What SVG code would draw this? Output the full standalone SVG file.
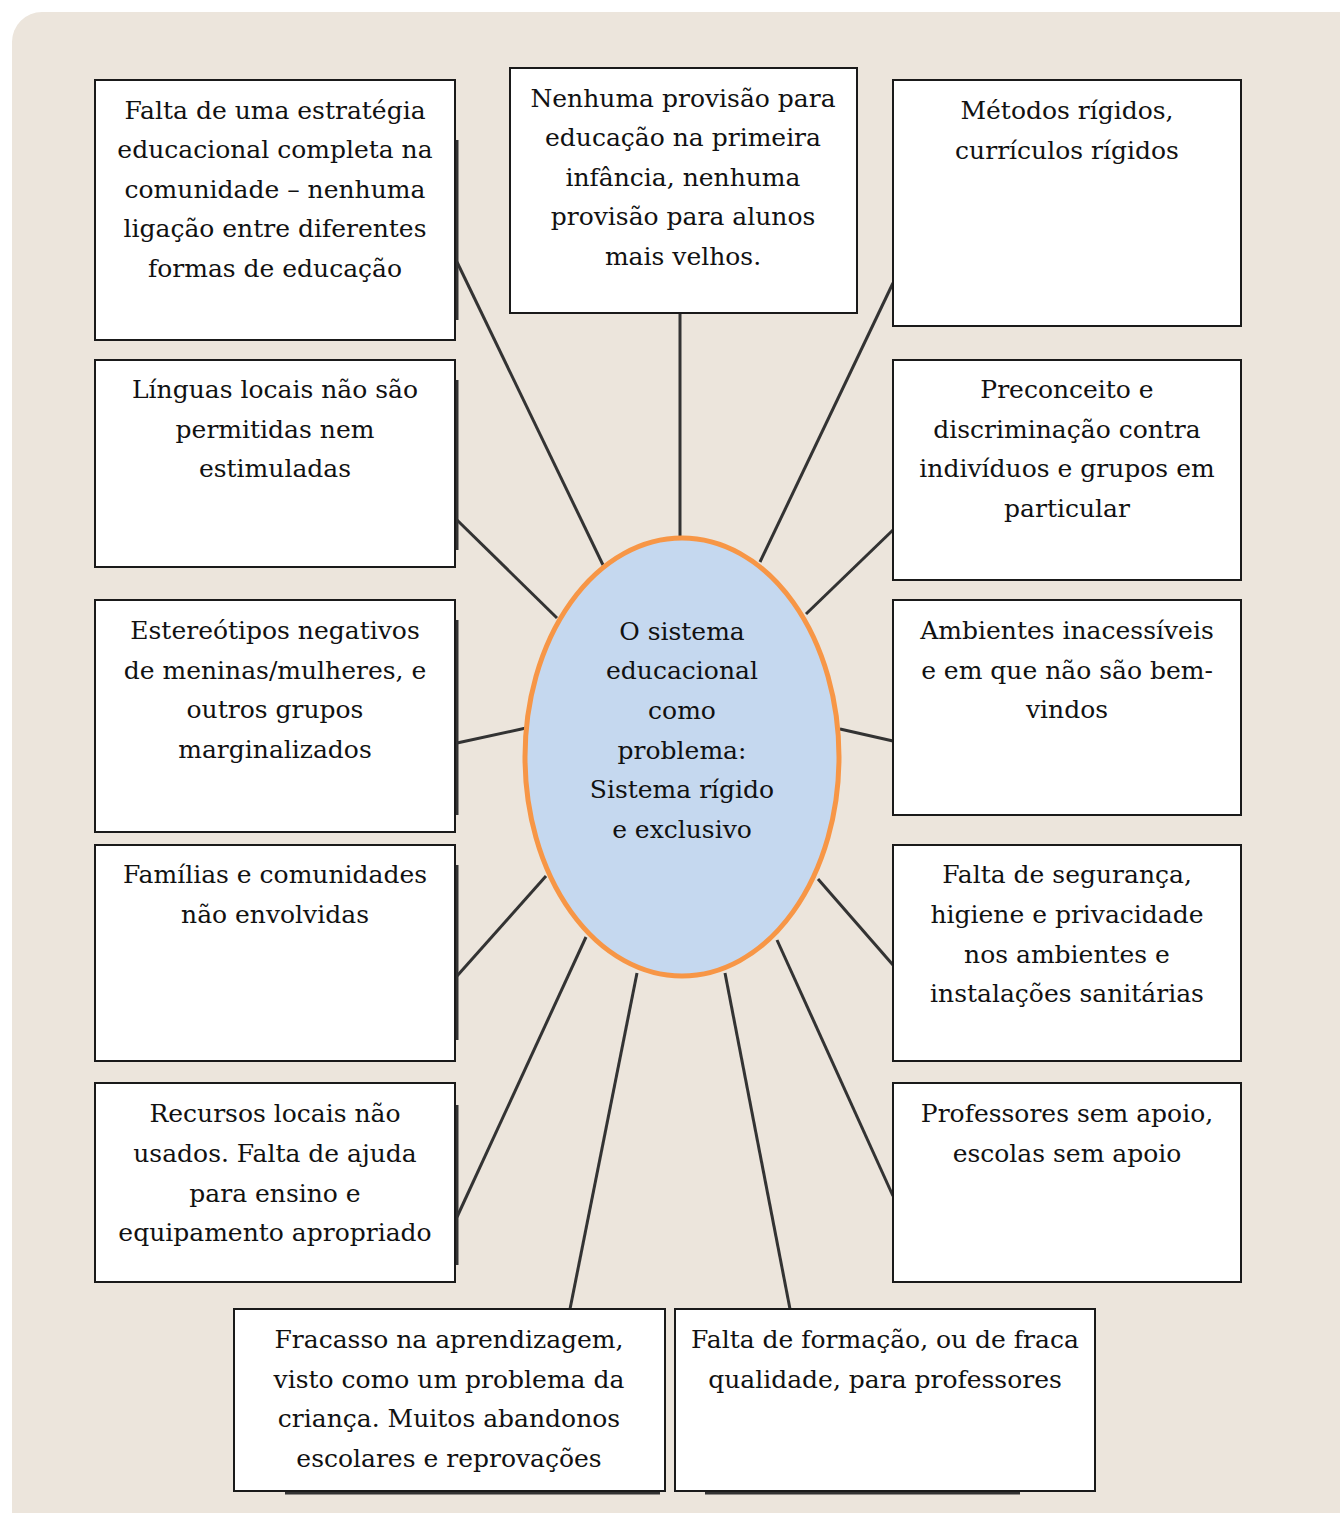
<svg xmlns="http://www.w3.org/2000/svg" width="1340" height="1513" viewBox="0 0 1340 1513">
<style>
.box{fill:#fff;stroke:#1a1a1a;stroke-width:2}
.sh{fill:none;stroke:#333;stroke-width:3}
.t{font-family:"DejaVu Serif","Liberation Serif",serif;font-size:25px;fill:#111;text-anchor:middle}
.c line{stroke:#333;stroke-width:3}
</style>
<rect x="0" y="0" width="1340" height="1513" fill="#fff"/>
<rect x="12" y="12" width="1360" height="1540" rx="30" fill="#ECE5DC"/>
<g class="c" id="connectors">
<line x1="680" y1="313" x2="680" y2="540"/>
<line x1="457" y1="262" x2="603" y2="565"/>
<line x1="893" y1="283" x2="760" y2="562"/>
<line x1="457" y1="520" x2="557" y2="618"/>
<line x1="893" y1="530" x2="806" y2="614"/>
<line x1="457" y1="743" x2="526" y2="728"/>
<line x1="893" y1="741" x2="840" y2="729"/>
<line x1="457" y1="976" x2="546" y2="876"/>
<line x1="893" y1="965" x2="818" y2="879"/>
<line x1="457" y1="1217" x2="586" y2="937"/>
<line x1="893" y1="1196" x2="777" y2="940"/>
<line x1="570" y1="1309" x2="637" y2="973"/>
<line x1="790" y1="1309" x2="725" y2="973"/>
</g>
<g id="center">
<ellipse cx="682" cy="757" rx="157" ry="219" fill="#C5D8EF" stroke="#F79646" stroke-width="5"/>
<text class="t" x="682" y="640">O sistema</text>
<text class="t" x="682" y="679">educacional</text>
<text class="t" x="682" y="719">como</text>
<text class="t" x="682" y="759">problema:</text>
<text class="t" x="682" y="798">Sistema rígido</text>
<text class="t" x="682" y="838">e exclusivo</text>
</g>
<g id="l1">
<line class="sh" x1="457" y1="140" x2="457" y2="320"/>
<rect class="box" x="95" y="80" width="360" height="260"/>
<text class="t" x="275" y="119">Falta de uma estratégia</text>
<text class="t" x="275" y="158">educacional completa na</text>
<text class="t" x="275" y="198">comunidade – nenhuma</text>
<text class="t" x="275" y="237">ligação entre diferentes</text>
<text class="t" x="275" y="277">formas de educação</text>
</g>
<g id="top">
<rect class="box" x="510" y="68" width="347" height="245"/>
<text class="t" x="683" y="107">Nenhuma provisão para</text>
<text class="t" x="683" y="146">educação na primeira</text>
<text class="t" x="683" y="186">infância, nenhuma</text>
<text class="t" x="683" y="225">provisão para alunos</text>
<text class="t" x="683" y="265">mais velhos.</text>
</g>
<g id="r1">
<rect class="box" x="893" y="80" width="348" height="246"/>
<text class="t" x="1067" y="119">Métodos rígidos,</text>
<text class="t" x="1067" y="159">currículos rígidos</text>
</g>
<g id="l2">
<line class="sh" x1="457" y1="380" x2="457" y2="550"/>
<rect class="box" x="95" y="360" width="360" height="207"/>
<text class="t" x="275" y="398">Línguas locais não são</text>
<text class="t" x="275" y="438">permitidas nem</text>
<text class="t" x="275" y="477">estimuladas</text>
</g>
<g id="r2">
<rect class="box" x="893" y="360" width="348" height="220"/>
<text class="t" x="1067" y="398">Preconceito e</text>
<text class="t" x="1067" y="438">discriminação contra</text>
<text class="t" x="1067" y="477">indivíduos e grupos em</text>
<text class="t" x="1067" y="517">particular</text>
</g>
<g id="l3">
<line class="sh" x1="457" y1="620" x2="457" y2="815"/>
<rect class="box" x="95" y="600" width="360" height="232"/>
<text class="t" x="275" y="639">Estereótipos negativos</text>
<text class="t" x="275" y="679">de meninas/mulheres, e</text>
<text class="t" x="275" y="718">outros grupos</text>
<text class="t" x="275" y="758">marginalizados</text>
</g>
<g id="r3">
<rect class="box" x="893" y="600" width="348" height="215"/>
<text class="t" x="1067" y="639">Ambientes inacessíveis</text>
<text class="t" x="1067" y="679">e em que não são bem-</text>
<text class="t" x="1067" y="718">vindos</text>
</g>
<g id="l4">
<line class="sh" x1="457" y1="865" x2="457" y2="1040"/>
<rect class="box" x="95" y="845" width="360" height="216"/>
<text class="t" x="275" y="883">Famílias e comunidades</text>
<text class="t" x="275" y="923">não envolvidas</text>
</g>
<g id="r4">
<rect class="box" x="893" y="845" width="348" height="216"/>
<text class="t" x="1067" y="883">Falta de segurança,</text>
<text class="t" x="1067" y="923">higiene e privacidade</text>
<text class="t" x="1067" y="963">nos ambientes e</text>
<text class="t" x="1067" y="1002">instalações sanitárias</text>
</g>
<g id="l5">
<line class="sh" x1="457" y1="1105" x2="457" y2="1265"/>
<rect class="box" x="95" y="1083" width="360" height="199"/>
<text class="t" x="275" y="1122">Recursos locais não</text>
<text class="t" x="275" y="1162">usados. Falta de ajuda</text>
<text class="t" x="275" y="1202">para ensino e</text>
<text class="t" x="275" y="1241">equipamento apropriado</text>
</g>
<g id="r5">
<rect class="box" x="893" y="1083" width="348" height="199"/>
<text class="t" x="1067" y="1122">Professores sem apoio,</text>
<text class="t" x="1067" y="1162">escolas sem apoio</text>
</g>
<g id="b1">
<line class="sh" x1="285" y1="1493" x2="660" y2="1493"/>
<rect class="box" x="234" y="1309" width="431" height="182"/>
<text class="t" x="449" y="1348">Fracasso na aprendizagem,</text>
<text class="t" x="449" y="1388">visto como um problema da</text>
<text class="t" x="449" y="1427">criança. Muitos abandonos</text>
<text class="t" x="449" y="1467">escolares e reprovações</text>
</g>
<g id="b2">
<line class="sh" x1="705" y1="1493" x2="1020" y2="1493"/>
<rect class="box" x="675" y="1309" width="420" height="182"/>
<text class="t" x="885" y="1348">Falta de formação, ou de fraca</text>
<text class="t" x="885" y="1388">qualidade, para professores</text>
</g>
</svg>
